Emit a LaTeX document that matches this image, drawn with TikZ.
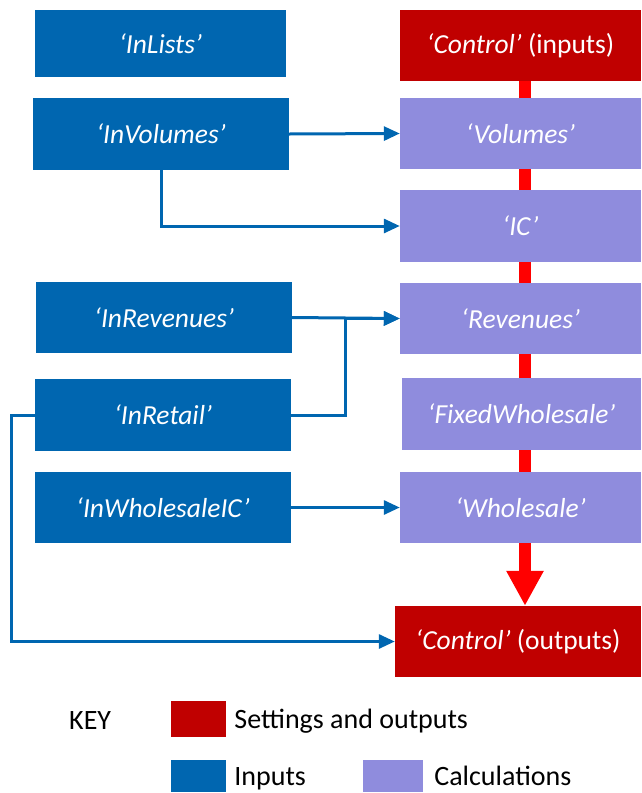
\documentclass[tikz,border=0pt]{standalone}
\usepackage{fontspec}
\setmainfont{Carlito}
\usetikzlibrary{arrows.meta}
\definecolor{inblue}{RGB}{0,102,176}
\definecolor{setred}{RGB}{192,0,0}
\definecolor{calclav}{RGB}{143,140,221}
\definecolor{spinered}{RGB}{255,0,0}

\begin{document}
\begin{tikzpicture}[x=1pt,y=-1pt,
    box/.style={minimum height=71pt,inner sep=0pt,text=white,font=\fontsize{27.5}{32}\selectfont\itshape},
    inbox/.style={box,fill=inblue,minimum width=256pt},
    calcbox/.style={box,fill=calclav,minimum width=241pt},
    ctrlbox/.style={box,fill=setred,minimum width=241pt},
    link/.style={draw=inblue,line width=3pt,-{Triangle[width=14pt,length=16pt]}},
    keybox/.style={minimum width=55pt,minimum height=32pt,inner sep=0pt},
    keytext/.style={anchor=base west,inner sep=0pt,font=\fontsize{28}{33}\selectfont}]
  \useasboundingbox (0,0) rectangle (641,793);

  \node[inbox,minimum width=251pt,minimum height=67pt] (inlists) at (160.5,43.5) {‘InLists’};
  \node[inbox,minimum height=72pt] (invol) at (161,134) {‘InVolumes’};
  \node[inbox] (inrev) at (164,317.5) {‘InRevenues’};
  \node[inbox,minimum height=72pt] (inret) at (163,415) {‘InRetail’};
  \node[inbox] (inwhic) at (163,507.5) {‘InWholesaleIC’};

  \node[ctrlbox] (ctrlin) at (520.5,45.5) {‘Control’ \upshape(inputs)};
  \node[calcbox] (vol) at (520.5,133.5) {‘Volumes’};
  \node[calcbox,minimum height=72pt] (ic) at (520.5,226) {‘IC’};
  \node[calcbox] (rev) at (520.5,318.5) {‘Revenues’};
  \node[calcbox,minimum width=239pt,minimum height=72pt] (fixwh) at (521.5,414) {‘FixedWholesale’};
  \node[calcbox] (wh) at (520.5,507.5) {‘Wholesale’};
  \node[ctrlbox,minimum width=246pt] (ctrlout) at (518,641.5) {‘Control’ \upshape(outputs)};

  \coordinate (spine) at (525,0);
  \foreach \a/\b in {ctrlin/vol,vol/ic,ic/rev,rev/fixwh,fixwh/wh} {
    \draw[spinered,line width=12pt] (\a.south -| spine) -- (\b.north -| spine);
  }
  \draw[spinered,line width=12pt,-{Triangle[width=35pt,length=35pt]}] (wh.south -| spine) -- (ctrlout.north -| spine);

  \draw[link] (invol.east) -- (vol.west);
  \draw[link] (invol.south) |- (ic.west);
  \draw[link] (inrev.east) -- (rev.west);
  \draw[link] (inret.east) -- ++(54,0) |- (rev.west);
  \draw[link] (inwhic.east) -- (wh.west);
  \draw[link] (inret.west) -- ++(-23,0) |- (ctrlout.west);

  \node[keytext] (key) at (69,729) {KEY};
  \node[keybox,fill=setred,minimum height=36pt] (keyset) at (198.5,719) {};
  \node[keytext] at ([xshift=8pt,yshift=-9pt]keyset.east) {Settings and outputs};
  \node[keybox,fill=inblue] (keyin) at (198.5,776) {};
  \node[keytext] at ([xshift=8pt,yshift=-9pt]keyin.east) {Inputs};
  \node[keybox,fill=calclav,minimum width=60pt] (keycalc) at (393,776) {};
  \node[keytext] at ([xshift=11pt,yshift=-9pt]keycalc.east) {Calculations};
\end{tikzpicture}
\end{document}
